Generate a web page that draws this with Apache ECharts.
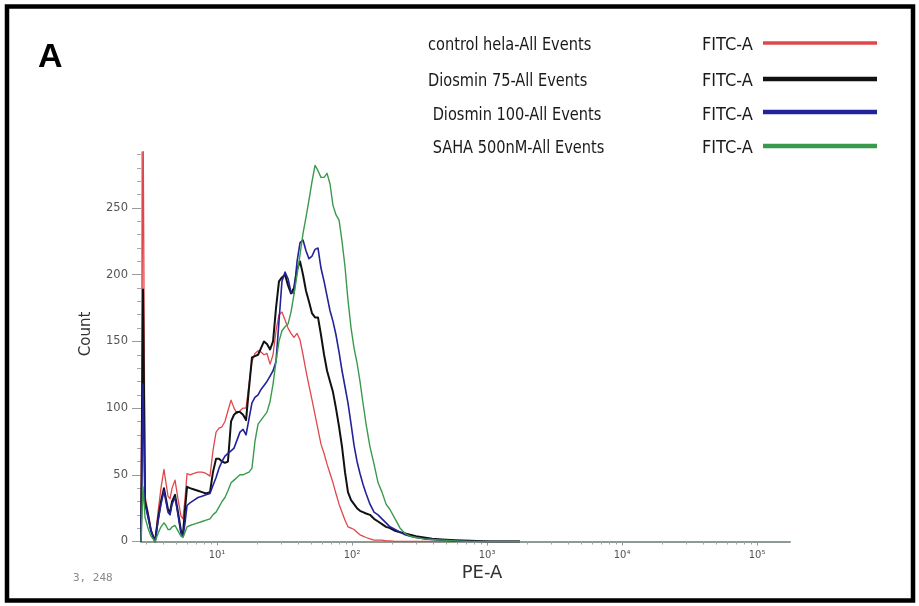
<!DOCTYPE html>
<html>
<head>
<meta charset="utf-8">
<script src="https://cdn.jsdelivr.net/npm/echarts@6/dist/echarts.min.js"></script>
<style>
  html, body { margin: 0; padding: 0; background: #ffffff; }
  #chart { width: 919px; height: 606px; }
</style>
</head>
<body>
<div id="chart"></div>
<script>
// PE-A channel position of each histogram bin, in log10 decades
const peLog = [
  0.437, 0.452, 0.467, 0.489, 0.511, 0.541, 0.563, 0.585, 0.607, 0.622,
  0.637, 0.652, 0.667, 0.689, 0.711, 0.733, 0.748, 0.763, 0.778, 0.800,
  0.830, 0.859, 0.889, 0.919, 0.948, 0.970, 0.993, 1.015, 1.037, 1.059,
  1.081, 1.104, 1.126, 1.148, 1.170, 1.193, 1.215, 1.237, 1.259, 1.281,
  1.304, 1.326, 1.348, 1.370, 1.393, 1.415, 1.437, 1.459, 1.481, 1.504,
  1.526, 1.548, 1.570, 1.593, 1.615, 1.637, 1.659, 1.681, 1.704, 1.726,
  1.748, 1.770, 1.793, 1.815, 1.837, 1.859, 1.881, 1.904, 1.926, 1.948,
  1.970, 1.993, 2.015, 2.037, 2.059, 2.081, 2.104, 2.133, 2.163, 2.193,
  2.222, 2.252, 2.281, 2.319, 2.356, 2.393, 2.430, 2.474, 2.533, 2.593,
  2.667, 2.763, 2.874, 3.022, 3.244
];

// event counts per bin, one list per sample
const controlHela = [
  0, 330, 34, 22, 9, 0, 22, 40, 54, 44,
  34, 32, 40, 46, 32, 19, 17, 32, 51, 50,
  51, 52, 52, 51, 49, 68, 82, 85, 86, 90,
  98, 106, 100, 96, 98, 100, 100, 118, 135, 141,
  143, 142, 140, 141, 133, 140, 158, 170, 172, 166,
  160, 156, 153, 156, 151, 140, 128, 117, 106, 95,
  84, 73, 66, 58, 51, 44, 36, 28, 22, 16,
  11, 10, 9, 7, 5, 4, 3, 2, 1, 1,
  1, 0.5, 0.5, 0, 0, 0, 0, 0, 0, 0,
  0, 0, 0, 0, 0
];
const diosmin75 = [
  0, 189, 30, 20, 8, 0, 17, 30, 40, 32,
  24, 22, 30, 35, 22, 8, 6, 24, 41, 40,
  39, 38, 37, 36, 37, 52, 62, 62, 60, 59,
  60, 90, 95, 97, 97, 95, 91, 115, 138, 139,
  140, 145, 150, 148, 144, 150, 175, 195, 198, 200,
  192, 186, 190, 204, 210, 200, 188, 180, 171, 168,
  168, 155, 140, 128, 120, 112, 100, 86, 71, 52,
  37, 31, 28, 25, 23, 22, 21, 20, 17, 15,
  13, 11, 10, 8, 7, 6, 5, 4, 3, 2,
  1.5, 1, 0.5, 0, 0
];
const diosmin100 = [
  0, 118, 28, 18, 8, 0, 15, 28, 38, 30,
  22, 20, 28, 33, 20, 6, 4, 14, 27, 29,
  31, 33, 34, 35, 36, 42, 48, 55, 60, 64,
  66, 68, 70, 76, 82, 84, 80, 92, 104, 108,
  110, 114, 117, 120, 124, 128, 135, 165, 195, 202,
  197, 187, 186, 210, 224, 226, 218, 212, 214, 219,
  220, 205, 195, 184, 173, 165, 155, 142, 128, 116,
  104, 88, 72, 60, 51, 43, 36, 28, 22, 20,
  17, 14, 11, 9, 7, 5, 4, 3, 2, 1.5,
  1, 0.5, 0, 0, 0
];
const saha500 = [
  0, 41, 18, 10, 4, 0, 6, 11, 14, 12,
  9, 9, 11, 12, 8, 4, 3, 7, 11, 12,
  13, 14, 15, 16, 17, 20, 22, 26, 30, 33,
  38, 44, 46, 48, 50, 50, 51, 52, 55, 75,
  88, 91, 94, 97, 105, 118, 135, 150, 158, 161,
  163, 172, 185, 200, 215, 231, 243, 256, 270, 282,
  278, 273, 273, 276, 268, 252, 245, 241, 225, 206,
  181, 160, 145, 134, 120, 104, 88, 71, 58, 44,
  37, 28, 24, 17, 10, 6, 4, 3, 2, 1.5,
  1, 0.5, 0, 0, 0
];

const sampleNames = [
  'control hela-All Events',
  'Diosmin 75-All Events',
  ' Diosmin 100-All Events',
  ' SAHA 500nM-All Events'
];
const channelName = 'FITC-A';
const sampleCounts = [controlHela, diosmin75, diosmin100, saha500];
const sampleColors = ['#e0474b', '#111111', '#22229a', '#3a9a4c'];
const sampleWidths = [1.3, 2, 1.6, 1.4];
const legendWidths = [3.5, 4.5, 4.5, 4.5];

// axis ticks and labels
const countTicks = [0, 50, 100, 150, 200, 250];
const countMinorTicks = [10, 20, 30, 40, 60, 70, 80, 90, 110, 120, 130, 140,
  160, 170, 180, 190, 210, 220, 230, 240, 260, 270, 280, 290];
const decadeTicks = [1, 2, 3, 4, 5];
const decadeLabels = ['10¹', '10²', '10³', '10⁴', '10⁵'];
const xRange = [0.437, 5.244];
const yRange = [0, 292];

// log-spaced minor ticks (2..9 x 10^d) inside the visible range
const decadeMinorTicks = [];
for (let d = 0; d <= 5; d++) {
  for (let k = 2; k <= 9; k++) {
    const v = d + Math.log10(k);
    if (v > xRange[0] && v < xRange[1]) decadeMinorTicks.push(v);
  }
}

const chart = echarts.init(document.getElementById('chart'), null, { renderer: 'canvas' });

const tickFont = 'DejaVu Sans, Verdana, sans-serif';
const narrowFont = "'Liberation Sans Narrow', 'DejaVu Sans Condensed', 'Arial Narrow', sans-serif";

const series = sampleCounts.map((counts, i) => ({
  name: sampleNames[i].trim(),
  type: 'line',
  xAxisIndex: 0,
  yAxisIndex: 0,
  showSymbol: false,
  silent: true,
  clip: true,
  data: peLog.map((x, j) => [x, counts[j]]),
  lineStyle: { color: sampleColors[i], width: sampleWidths[i], join: 'round' },
  z: 3 + i
}));

// legend block: sample name, channel name, colour swatch
const legendTextY = [45, 81, 115, 148];
const legendLineY = [43, 79, 112, 146];
const legendGraphics = [];
sampleNames.forEach((name, i) => {
  legendGraphics.push({
    type: 'text', x: 428, y: legendTextY[i], scaleX: 0.9, silent: true,
    style: { text: name, font: '18px ' + narrowFont, fill: '#1a1a1a', verticalAlign: 'middle' }
  });
  legendGraphics.push({
    type: 'text', x: 702, y: legendTextY[i], silent: true,
    style: { text: channelName, font: '18px ' + narrowFont, fill: '#1a1a1a', verticalAlign: 'middle' }
  });
  legendGraphics.push({
    type: 'line', silent: true,
    shape: { x1: 763, y1: legendLineY[i], x2: 877, y2: legendLineY[i] },
    style: { stroke: sampleColors[i], lineWidth: legendWidths[i] }
  });
});

chart.setOption({
  animation: false,
  backgroundColor: '#ffffff',
  grid: { left: 141, right: 129, top: 152, bottom: 64.5, containLabel: false },
  xAxis: [
    {
      type: 'value', min: xRange[0], max: xRange[1], position: 'bottom',
      axisLine: { show: true, lineStyle: { color: '#8e9a94', width: 2 } },
      axisTick: { show: true, customValues: decadeTicks, length: 4, lineStyle: { color: '#8e9a94' } },
      axisLabel: {
        show: true, customValues: decadeTicks, margin: 9,
        formatter: v => decadeLabels[decadeTicks.indexOf(Math.round(v))] || '',
        color: '#555', fontFamily: tickFont, fontSize: 10
      },
      splitLine: { show: false }
    },
    {
      type: 'value', min: xRange[0], max: xRange[1], position: 'bottom',
      axisLine: { show: false },
      axisTick: { show: true, customValues: decadeMinorTicks, length: 3, lineStyle: { color: '#9aa6a0' } },
      axisLabel: { show: false },
      splitLine: { show: false }
    }
  ],
  yAxis: [
    {
      type: 'value', min: yRange[0], max: yRange[1], position: 'left',
      axisLine: { show: true, lineStyle: { color: '#b8b8b8', width: 1 } },
      axisTick: { show: true, customValues: countTicks, length: 9, lineStyle: { color: '#9a9a9a' } },
      axisLabel: {
        show: true, customValues: countTicks, margin: 13,
        color: '#555', fontFamily: tickFont, fontSize: 11.5
      },
      splitLine: { show: false }
    },
    {
      type: 'value', min: yRange[0], max: yRange[1], position: 'left',
      axisLine: { show: false },
      axisTick: { show: true, customValues: countMinorTicks, length: 4, lineStyle: { color: '#a8a8a8' } },
      axisLabel: { show: false },
      splitLine: { show: false }
    }
  ],
  series: series,
  graphic: [
    {
      type: 'rect', silent: true,
      shape: { x: 7, y: 6.5, width: 906, height: 594 },
      style: { fill: 'none', stroke: '#000000', lineWidth: 4.5 }
    },
    {
      type: 'text', x: 38, y: 58, silent: true,
      style: { text: 'A', font: 'bold 34px "Liberation Sans", Arial, sans-serif', fill: '#000', verticalAlign: 'middle' }
    },
    {
      type: 'text', x: 86, y: 334, rotation: Math.PI / 2, silent: true,
      style: { text: 'Count', font: '15px ' + tickFont, fill: '#333', align: 'center', verticalAlign: 'middle' }
    },
    {
      type: 'text', x: 482, y: 573, silent: true,
      style: { text: 'PE-A', font: '18px ' + tickFont, fill: '#333', align: 'center', verticalAlign: 'middle' }
    },
    {
      type: 'text', x: 73, y: 578, silent: true,
      style: { text: '3, 248', font: '11px "DejaVu Sans Mono", monospace', fill: '#888', verticalAlign: 'middle' }
    }
  ].concat(legendGraphics)
});
</script>
</body>
</html>
